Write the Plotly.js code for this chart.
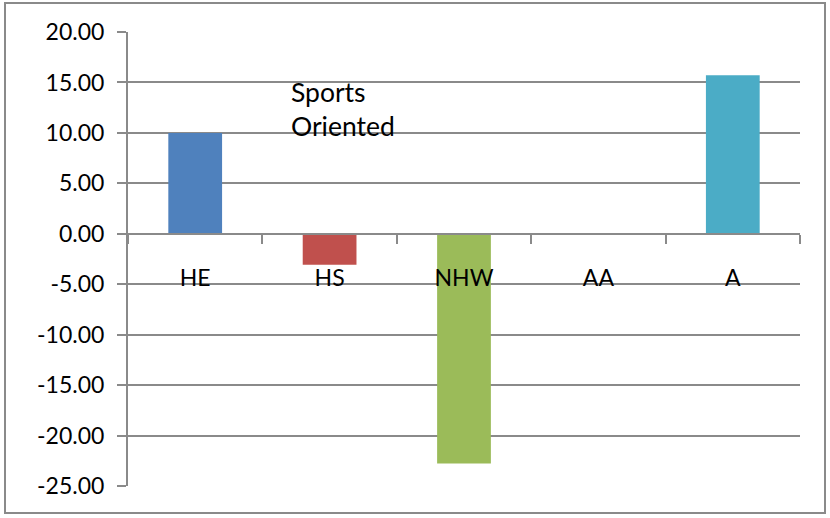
<!DOCTYPE html>
<html>
<head>
<meta charset="utf-8">
<script src="https://cdn.plot.ly/plotly-3.0.1.min.js"></script>
<style>
html,body{margin:0;padding:0;background:#fff;}
#frame{position:absolute;left:4px;top:2px;width:822px;height:512px;border:2px solid #8a8a8a;box-sizing:border-box;}
#chart{position:absolute;left:0;top:0;width:830px;height:518px;}
</style>
</head>
<body>
<div id="chart"></div>
<div id="frame"></div>
<script>
const categories = ["HE", "HS", "NHW", "AA", "A"];
const values = [10.0, -3.08, -22.78, 0.0, 15.72];
const barColors = ["#4F81BD", "#C0504D", "#9BBB59", "#8064A2", "#4BACC6"];
const chartTitle = "Sports<br>Oriented";
const yTickVals = [20, 15, 10, 5, 0, -5, -10, -15, -20, -25];
const yTickText = ["20.00", "15.00", "10.00", "5.00", "0.00", "-5.00", "-10.00", "-15.00", "-20.00", "-25.00"];
const yMin = -25, yMax = 20;

const trace = {
  type: "bar",
  x: categories,
  y: values,
  marker: {color: barColors},
  hoverinfo: "x+y"
};

const fontFam = "Lato, 'Open Sans', sans-serif";

const layout = {
  width: 830,
  height: 518,
  margin: {l: 128, r: 30, t: 32, b: 32},
  paper_bgcolor: "#ffffff",
  plot_bgcolor: "#ffffff",
  showlegend: false,
  bargap: 0.6,
  title: {
    text: chartTitle,
    font: {family: fontFam, size: 26.5, color: "#000"},
    x: (291 - 128) / 672, xref: "paper", xanchor: "left",
    y: 1 - 102/518, yref: "container", yanchor: "top"
  },
  xaxis: {
    type: "category",
    anchor: "free",
    position: (0 - yMin) / (yMax - yMin),
    showline: true,
    linecolor: "#8a8a8a",
    linewidth: 2,
    showgrid: false,
    zeroline: false,
    ticks: "outside",
    tickson: "boundaries",
    ticklen: 9,
    tickwidth: 2,
    tickcolor: "#8a8a8a",
    ticklabelstandoff: 24,
    tickfont: {family: fontFam, size: 23, color: "#000"},
    fixedrange: true
  },
  yaxis: {
    range: [yMin, yMax],
    tickmode: "array",
    tickvals: yTickVals,
    ticktext: yTickText,
    showline: true,
    linecolor: "#8a8a8a",
    linewidth: 2,
    showgrid: true,
    gridcolor: "#8a8a8a",
    gridwidth: 2,
    zeroline: false,
    ticks: "outside",
    ticklen: 9,
    tickwidth: 2,
    tickcolor: "#8a8a8a",
    ticklabelstandoff: 8,
    tickfont: {family: fontFam, size: 23, color: "#000"},
    fixedrange: true
  }
};

Plotly.newPlot("chart", [trace], layout, {displayModeBar: false, staticPlot: true});
</script>
</body>
</html>
